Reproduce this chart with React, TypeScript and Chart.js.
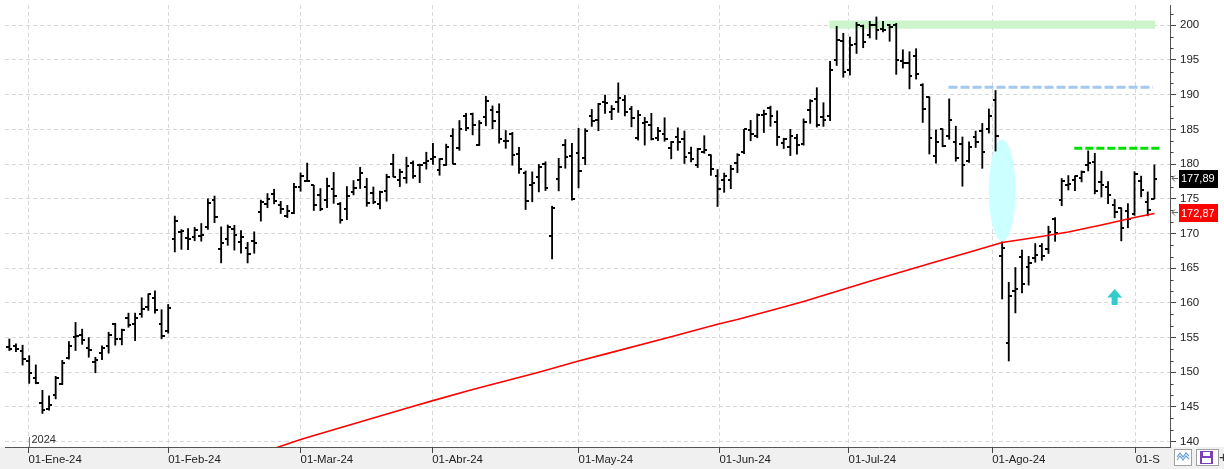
import React, { useEffect, useRef } from 'react';
import { Chart, registerables } from 'chart.js';

Chart.register(...registerables);

// ---- Data (daily OHLC, 27-Dec-2023 .. 05-Sep-2024) ----
const dates = [
  '2023-12-27','2023-12-28','2023-12-29','2024-01-02','2024-01-03','2024-01-04','2024-01-05','2024-01-08','2024-01-09','2024-01-10',
  '2024-01-11','2024-01-12','2024-01-16','2024-01-17','2024-01-18','2024-01-19','2024-01-22','2024-01-23','2024-01-24','2024-01-25',
  '2024-01-26','2024-01-29','2024-01-30','2024-01-31','2024-02-01','2024-02-02','2024-02-05','2024-02-06','2024-02-07','2024-02-08',
  '2024-02-09','2024-02-12','2024-02-13','2024-02-14','2024-02-15','2024-02-16','2024-02-20','2024-02-21','2024-02-22','2024-02-23',
  '2024-02-26','2024-02-27','2024-02-28','2024-02-29','2024-03-01','2024-03-04','2024-03-05','2024-03-06','2024-03-07','2024-03-08',
  '2024-03-11','2024-03-12','2024-03-13','2024-03-14','2024-03-15','2024-03-18','2024-03-19','2024-03-20','2024-03-21','2024-03-22',
  '2024-03-25','2024-03-26','2024-03-27','2024-03-28','2024-04-01','2024-04-02','2024-04-03','2024-04-04','2024-04-05','2024-04-08',
  '2024-04-09','2024-04-10','2024-04-11','2024-04-12','2024-04-15','2024-04-16','2024-04-17','2024-04-18','2024-04-19','2024-04-22',
  '2024-04-23','2024-04-24','2024-04-25','2024-04-26','2024-04-29','2024-04-30','2024-05-01','2024-05-02','2024-05-03','2024-05-06',
  '2024-05-07','2024-05-08','2024-05-09','2024-05-10','2024-05-13','2024-05-14','2024-05-15','2024-05-16','2024-05-17','2024-05-20',
  '2024-05-21','2024-05-22','2024-05-23','2024-05-24','2024-05-28','2024-05-29','2024-05-30','2024-05-31','2024-06-03','2024-06-04',
  '2024-06-05','2024-06-06','2024-06-07','2024-06-10','2024-06-11','2024-06-12','2024-06-13','2024-06-14','2024-06-17','2024-06-18',
  '2024-06-20','2024-06-21','2024-06-24','2024-06-25','2024-06-26','2024-06-27','2024-06-28','2024-07-01','2024-07-02','2024-07-03',
  '2024-07-05','2024-07-08','2024-07-09','2024-07-10','2024-07-11','2024-07-12','2024-07-15','2024-07-16','2024-07-17','2024-07-18',
  '2024-07-19','2024-07-22','2024-07-23','2024-07-24','2024-07-25','2024-07-26','2024-07-29','2024-07-30','2024-07-31','2024-08-01',
  '2024-08-02','2024-08-05','2024-08-06','2024-08-07','2024-08-08','2024-08-09','2024-08-12','2024-08-13','2024-08-14','2024-08-15',
  '2024-08-16','2024-08-19','2024-08-20','2024-08-21','2024-08-22','2024-08-23','2024-08-26','2024-08-27','2024-08-28','2024-08-29',
  '2024-08-30','2024-09-03','2024-09-04','2024-09-05'
];

const open = [
  153.56,153.72,153.10,151.54,149.20,145.59,144.69,146.74,148.33,152.06,
  155.04,155.39,153.53,151.49,152.77,153.83,156.89,154.85,157.80,156.95,
  158.42,159.34,160.70,157.00,155.87,169.19,170.20,169.39,169.48,169.65,
  170.90,174.80,167.73,169.21,170.58,168.74,167.83,168.94,173.10,174.28,
  175.70,174.08,172.44,173.01,176.75,177.53,176.93,175.54,174.83,176.44,
  174.31,173.50,175.90,177.69,176.64,175.80,174.22,176.14,179.99,177.75,
  178.01,180.15,179.88,180.17,180.79,179.07,179.90,184.00,182.38,186.90,
  187.24,182.77,186.74,187.72,187.43,183.27,184.31,181.47,178.74,176.94,
  178.08,179.94,169.68,177.80,182.75,181.09,181.64,180.85,186.99,186.28,
  188.92,187.44,188.88,189.16,188.00,183.82,185.97,185.60,183.76,184.34,
  182.30,183.88,183.66,181.65,179.93,181.70,181.31,178.30,177.70,177.64,
  180.10,181.75,184.90,184.07,187.06,188.02,186.09,183.08,182.52,183.74,
  182.91,187.80,189.33,186.81,186.92,195.01,197.73,193.49,197.28,199.94,
  198.65,200.04,199.40,200.00,200.09,194.80,194.56,195.59,191.35,189.59,
  181.14,185.00,184.10,183.20,182.91,180.39,183.84,184.72,185.05,189.29,
  166.75,154.21,161.71,166.55,165.17,166.40,168.14,167.81,172.11,174.86,
  177.04,177.64,177.92,179.92,180.35,177.34,176.70,174.15,173.69,173.22,
  172.78,177.55,174.48,175.00
];

const high = [
  154.78,154.08,153.89,152.38,151.05,147.38,146.59,149.40,151.71,154.42,
  157.17,156.20,154.99,152.15,153.78,155.76,157.05,156.21,158.51,158.51,
  160.72,161.29,161.73,159.01,159.76,172.50,170.55,170.71,170.88,171.43,
  175.00,175.39,170.95,171.21,171.17,170.42,168.71,170.23,174.80,175.75,
  176.37,174.62,174.05,177.22,178.73,180.14,176.93,176.46,177.99,178.79,
  174.47,176.76,177.62,179.53,177.93,176.69,176.09,178.53,181.42,179.26,
  180.99,180.45,180.00,181.70,183.00,180.79,182.87,185.10,186.27,187.29,
  187.34,186.27,189.77,188.38,188.69,184.83,184.57,182.39,179.00,178.87,
  179.93,180.32,173.92,180.82,183.53,182.99,185.15,185.10,187.87,188.75,
  189.94,188.43,191.70,189.89,188.31,187.72,186.72,187.31,185.30,186.67,
  183.26,185.22,184.76,182.44,182.24,184.08,181.34,179.21,178.70,179.82,
  181.50,185.00,186.29,187.23,187.77,188.35,187.67,183.72,185.00,184.29,
  186.51,189.28,191.00,188.84,194.80,199.84,198.85,198.30,200.43,200.03,
  200.55,201.20,200.57,200.11,200.27,196.47,196.19,196.62,191.58,189.68,
  184.93,185.06,189.39,185.45,183.90,183.19,184.75,185.86,187.94,190.60,
  168.77,162.96,165.08,167.58,166.69,168.55,168.55,171.04,172.28,177.91,
  178.34,178.30,179.01,181.90,181.55,178.97,177.47,174.89,173.69,174.29,
  178.90,178.26,175.98,179.88
];

const low = [
  153.12,152.95,151.03,148.39,148.33,144.05,144.53,146.15,148.21,151.88,
  153.12,154.01,152.15,149.91,151.82,152.74,153.90,153.93,156.48,154.55,
  157.91,158.90,158.49,154.81,155.62,167.33,167.70,167.65,168.94,168.88,
  170.58,171.54,165.75,168.28,167.59,167.17,165.74,167.14,171.77,173.70,
  174.26,172.86,172.27,172.85,176.07,177.49,173.30,173.26,173.72,174.33,
  171.47,171.98,175.55,176.47,173.90,174.28,173.52,174.64,178.15,176.75,
  177.24,177.95,177.31,179.26,179.95,178.38,179.80,180.00,181.97,184.81,
  184.20,182.67,185.51,185.08,183.00,182.26,179.82,178.65,173.44,174.56,
  175.98,176.18,166.32,176.13,179.39,174.80,176.56,179.91,185.42,184.80,
  187.31,186.39,187.44,186.93,185.36,183.45,182.73,183.46,183.35,183.28,
  180.75,181.97,180.08,180.30,179.49,181.55,178.36,173.87,175.92,176.44,
  178.75,181.49,183.36,183.79,184.54,185.43,182.67,182.23,181.22,181.43,
  182.72,185.86,185.33,185.42,186.26,194.20,192.50,192.82,195.93,196.76,
  198.17,197.96,199.05,197.69,192.92,193.83,190.83,192.24,185.99,181.45,
  180.11,182.48,183.56,180.41,176.80,180.24,182.38,179.38,184.46,181.87,
  160.55,151.61,158.54,161.43,162.55,165.85,166.11,167.10,168.86,173.99,
  176.26,176.16,177.43,179.00,175.70,175.24,174.30,172.25,168.92,170.81,
  172.60,175.26,172.54,175.00
];

const close = [
  153.34,153.38,151.94,149.93,148.47,144.57,145.24,149.10,151.37,153.73,
  155.18,154.62,153.16,151.71,153.50,155.34,154.78,156.02,156.87,157.75,
  159.12,161.26,159.00,155.20,159.28,171.81,170.31,169.15,170.53,169.84,
  174.45,172.34,168.64,170.98,169.80,169.51,167.08,168.59,174.58,174.99,
  174.73,173.54,173.16,176.76,178.22,177.58,174.12,173.51,176.82,175.35,
  171.96,175.39,176.56,178.75,174.42,174.48,175.90,178.15,178.15,178.87,
  179.71,178.30,179.83,180.38,180.97,180.69,182.41,180.00,185.07,185.19,
  185.67,185.95,189.05,186.13,183.62,183.32,181.28,179.22,174.63,177.23,
  179.54,176.59,173.67,179.62,180.96,175.00,179.00,184.72,186.21,188.70,
  188.76,188.00,189.50,187.48,186.57,187.07,185.99,183.63,184.70,183.54,
  183.15,183.13,181.05,180.75,182.15,182.02,179.32,176.44,178.34,179.34,
  181.28,185.00,184.30,187.06,187.23,186.89,183.83,183.66,184.06,182.81,
  186.10,189.08,185.57,186.34,193.61,197.85,193.25,197.20,200.00,197.59,
  200.00,199.29,199.34,199.79,195.05,194.49,192.72,193.02,187.93,183.75,
  183.13,182.55,186.41,180.83,179.85,182.50,183.20,181.71,186.98,184.07,
  167.90,161.02,161.93,162.77,165.80,166.94,166.80,170.23,170.10,177.59,
  177.06,178.22,178.88,180.11,176.13,177.04,175.50,173.12,170.80,172.12,
  178.50,176.25,173.33,177.89
];

// 200-session moving average, read at several bar indices
const smaIndex = [40, 44, 50, 60, 64, 70, 80, 86, 90, 100, 107, 110, 117, 120, 130, 135, 140, 145, 150, 155, 160, 165, 170, 173];
const smaValue = [139.0, 140.3, 142.0, 144.8, 145.9, 147.5, 150.0, 151.6, 152.6, 155.1, 156.9, 157.6, 159.4, 160.2, 163.1, 164.5, 165.9, 167.3, 168.7, 169.4, 170.2, 171.2, 172.3, 172.87];

// Axis ticks
const monthTickPos = [2.9, 24.0, 44.0, 63.9, 86.0, 107.3, 126.8, 148.5, 170.2];
const monthLabels = ['01-Ene-24', '01-Feb-24', '01-Mar-24', '01-Abr-24', '01-May-24', '01-Jun-24', '01-Jul-24', '01-Ago-24', '01-Sep-24'];
const yTickValues = [140, 145, 150, 155, 160, 165, 170, 175, 180, 185, 190, 195, 200];
const yearLabel = '2024';

// Drawn annotations (data space)
const greenBand = { x0: 123.9, x1: 173.1, y0: 199.5, y1: 200.68 };
const blueLevel = { x0: 141.9, x1: 172.8, y: 191.05 };
const greenLevel = { x0: 160.9, x1: 174.0, y: 182.26 };
const cyanEllipse = { x: 150.0, y: 176.2, dx: 2.03, dy: 7.34 };
const upArrow = { x: 167.0, top: 162.0, bottom: 159.7 };

const X_MIN = -0.656;
const X_MAX = 175.36;
const Y_MIN = 139.216;
const Y_MAX = 202.92;
const FONT = "'Liberation Sans', Arial, sans-serif";

function makeTick(side: 'left' | 'right') {
  const c = document.createElement('canvas');
  c.width = 6;
  c.height = 2;
  const g = c.getContext('2d')!;
  g.fillStyle = '#000';
  if (side === 'left') g.fillRect(0, 0, 3, 2);
  else g.fillRect(3, 0, 3, 2);
  return c;
}

const overlayPlugin = {
  id: 'overlay',
  beforeDraw(chart: any) {
    const { ctx, width, height, chartArea } = chart;
    ctx.save();
    ctx.fillStyle = '#ffffff';
    ctx.fillRect(0, 0, width, height);
    ctx.fillStyle = '#f0f0f0';
    ctx.fillRect(0, chartArea.bottom, width, height - chartArea.bottom);
    ctx.restore();
  },
  beforeDatasetsDraw(chart: any) {
    const { ctx, chartArea } = chart;
    const xs = chart.scales.x;
    const ys = chart.scales.y;
    ctx.save();
    ctx.beginPath();
    ctx.rect(chartArea.left, chartArea.top, chartArea.right - chartArea.left, chartArea.bottom - chartArea.top);
    ctx.clip();

    // green band
    const gx0 = xs.getPixelForValue(greenBand.x0);
    const gx1 = xs.getPixelForValue(greenBand.x1);
    const gy0 = ys.getPixelForValue(greenBand.y1);
    const gy1 = ys.getPixelForValue(greenBand.y0);
    ctx.fillStyle = '#ccf5cc';
    ctx.fillRect(gx0, gy0, gx1 - gx0, gy1 - gy0);

    // cyan ellipse
    const cx = xs.getPixelForValue(cyanEllipse.x);
    const cy = ys.getPixelForValue(cyanEllipse.y);
    const rx = Math.abs(xs.getPixelForValue(cyanEllipse.x + cyanEllipse.dx) - cx);
    const ry = Math.abs(ys.getPixelForValue(cyanEllipse.y + cyanEllipse.dy) - cy);
    ctx.fillStyle = '#ccffff';
    ctx.beginPath();
    ctx.ellipse(cx, cy, rx, ry, 0, 0, Math.PI * 2);
    ctx.fill();

    // blue dashed level
    ctx.lineWidth = 3;
    ctx.setLineDash([9, 3]);
    ctx.strokeStyle = '#a4c8f0';
    let py = ys.getPixelForValue(blueLevel.y);
    ctx.beginPath();
    ctx.moveTo(xs.getPixelForValue(blueLevel.x0), py);
    ctx.lineTo(xs.getPixelForValue(blueLevel.x1), py);
    ctx.stroke();

    // green dashed level
    ctx.setLineDash([8, 3]);
    ctx.strokeStyle = '#00e000';
    py = ys.getPixelForValue(greenLevel.y);
    ctx.beginPath();
    ctx.moveTo(xs.getPixelForValue(greenLevel.x0), py);
    ctx.lineTo(xs.getPixelForValue(greenLevel.x1), py);
    ctx.stroke();
    ctx.setLineDash([]);

    // up arrow
    const ax = xs.getPixelForValue(upArrow.x);
    const at = ys.getPixelForValue(upArrow.top);
    const ab = ys.getPixelForValue(upArrow.bottom);
    const head = 8.5;
    ctx.fillStyle = '#33cccc';
    ctx.beginPath();
    ctx.moveTo(ax, at);
    ctx.lineTo(ax + 7.5, at + head);
    ctx.lineTo(ax + 3, at + head);
    ctx.lineTo(ax + 3, ab);
    ctx.lineTo(ax - 3, ab);
    ctx.lineTo(ax - 3, at + head);
    ctx.lineTo(ax - 7.5, at + head);
    ctx.closePath();
    ctx.fill();

    // year marker
    const jx = Math.round(xs.getPixelForValue(monthTickPos[0])) + 0.5;
    ctx.strokeStyle = '#777';
    ctx.lineWidth = 1;
    ctx.beginPath();
    ctx.moveTo(jx, chartArea.bottom - 10);
    ctx.lineTo(jx, chartArea.bottom);
    ctx.stroke();
    ctx.fillStyle = '#333';
    ctx.font = `11px ${FONT}`;
    ctx.textAlign = 'left';
    ctx.textBaseline = 'alphabetic';
    ctx.fillText(yearLabel, jx + 2, chartArea.bottom - 4);
    ctx.restore();
  },
  afterDraw(chart: any) {
    const { ctx, chartArea, width, height } = chart;
    const ys = chart.scales.y;
    const right = chartArea.right;
    ctx.save();

    // minor ticks on the price axis
    ctx.strokeStyle = '#444';
    ctx.lineWidth = 1;
    for (let v = 140 - 5; v <= 205; v += 5 / 3) {
      const r = Math.round(v * 3) / 3;
      if (Math.abs(r / 5 - Math.round(r / 5)) < 1e-6) continue;
      if (r < Y_MIN || r > Y_MAX) continue;
      const p = Math.round(ys.getPixelForValue(r)) + 0.5;
      ctx.beginPath();
      ctx.moveTo(right, p);
      ctx.lineTo(right + 3.5, p);
      ctx.stroke();
    }

    // last value tags
    const drawTag = (val: number, bg: string) => {
      const p = ys.getPixelForValue(val);
      ctx.fillStyle = bg;
      ctx.fillRect(right + 9, Math.round(p - 9), 39, 18);
      ctx.fillStyle = '#ffffff';
      ctx.font = `11px ${FONT}`;
      ctx.textAlign = 'left';
      ctx.textBaseline = 'middle';
      ctx.fillText(val.toFixed(2).replace('.', ','), right + 11, p + 0.5);
      ctx.strokeStyle = '#666';
      ctx.lineWidth = 1;
      const ay = Math.round(p) - 0.5;
      ctx.beginPath();
      ctx.moveTo(right + 2, ay);
      ctx.lineTo(right + 8, ay);
      ctx.moveTo(right + 5, ay - 3);
      ctx.lineTo(right + 2, ay);
      ctx.lineTo(right + 5, ay + 3);
      ctx.stroke();
    };
    drawTag(close[close.length - 1], '#000000');
    drawTag(smaValue[smaValue.length - 1], '#ff0000');

    // bottom-right toolbar (covers the clipped part of the last month label)
    const by = chartArea.bottom + 1;
    ctx.fillStyle = '#f0f0f0';
    ctx.fillRect(right - 10, by, width - right + 10, height - by);
    ctx.fillStyle = '#ffffff';
    ctx.strokeStyle = '#a0a0a0';
    ctx.fillRect(right + 4.5, by + 1.5, 17, 16);
    ctx.strokeRect(right + 4.5, by + 1.5, 17, 16);
    ctx.strokeStyle = '#6aa0d8';
    ctx.lineWidth = 1.2;
    for (const off of [0, 3]) {
      ctx.beginPath();
      ctx.moveTo(right + 7, by + 9 + off);
      ctx.lineTo(right + 10, by + 5 + off);
      ctx.lineTo(right + 13, by + 9 + off);
      ctx.lineTo(right + 16, by + 5 + off);
      ctx.lineTo(right + 19, by + 8 + off);
      ctx.stroke();
    }
    ctx.fillStyle = '#ffffff';
    ctx.strokeStyle = '#a0a0a0';
    ctx.lineWidth = 1;
    ctx.fillRect(right + 26.5, by + 1.5, 22, 16);
    ctx.strokeRect(right + 26.5, by + 1.5, 22, 16);
    ctx.fillStyle = '#7b3fb8';
    ctx.fillRect(right + 30, by + 3, 13, 13);
    ctx.fillStyle = '#ffffff';
    ctx.fillRect(right + 33, by + 4, 7, 4);
    ctx.fillRect(right + 32, by + 10, 9, 5);
    ctx.fillStyle = '#333';
    ctx.font = `15px ${FONT}`;
    ctx.textAlign = 'left';
    ctx.textBaseline = 'middle';
    ctx.fillText('+', right + 49, by + 9.5);
    ctx.restore();
  }
};

export default function App() {
  const ref = useRef<HTMLCanvasElement | null>(null);

  useEffect(() => {
    document.body.style.margin = '0';
    const canvas = ref.current;
    if (!canvas) return;
    const openTick = makeTick('left');
    const closeTick = makeTick('right');

    const chart = new Chart(canvas, {
      type: 'bar',
      data: {
        datasets: [
          {
            type: 'line',
            label: 'Media 200',
            data: smaIndex.map((v, i) => ({ x: v, y: smaValue[i] })),
            borderColor: '#ff0000',
            borderWidth: 1.6,
            pointRadius: 0,
            tension: 0,
            order: 0
          } as any,
          {
            type: 'scatter',
            label: 'Apertura',
            data: open.map((v, i) => ({ x: i, y: v })),
            pointStyle: openTick,
            pointRadius: 3,
            order: 1
          } as any,
          {
            type: 'scatter',
            label: 'Cierre',
            data: close.map((v, i) => ({ x: i, y: v })),
            pointStyle: closeTick,
            pointRadius: 3,
            order: 1
          } as any,
          {
            type: 'bar',
            label: 'Rango',
            data: low.map((v, i) => ({ x: i, y: [v, high[i]] })),
            backgroundColor: '#000000',
            borderWidth: 0,
            barThickness: 1.2,
            grouped: false,
            order: 2
          } as any
        ]
      },
      options: {
        animation: false,
        responsive: false,
        events: [],
        layout: { padding: 0 },
        plugins: { legend: { display: false }, tooltip: { enabled: false } },
        scales: {
          x: {
            type: 'linear',
            position: 'bottom',
            min: X_MIN,
            max: X_MAX,
            offset: false,
            bounds: 'data',
            afterBuildTicks: (s: any) => {
              s.ticks = monthTickPos.map((v) => ({ value: v }));
            },
            afterFit: (s: any) => {
              s.height = 22;
              s.paddingLeft = 0;
              s.paddingRight = 0;
            },
            grid: { offset: false, color: '#d8d8d8', lineWidth: 1, drawTicks: true, tickLength: 6, tickColor: '#444', tickWidth: 1 },
            border: { display: true, color: '#555', width: 1, dash: [4, 3] },
            ticks: {
              autoSkip: false,
              maxRotation: 0,
              minRotation: 0,
              align: 'start',
              padding: 0,
              color: '#222',
              font: { family: FONT, size: 11.4 },
              callback: (_v: any, i: number) => monthLabels[i]
            }
          } as any,
          y: {
            type: 'linear',
            position: 'right',
            min: Y_MIN,
            max: Y_MAX,
            bounds: 'data',
            afterBuildTicks: (s: any) => {
              s.ticks = yTickValues.map((v) => ({ value: v }));
            },
            afterFit: (s: any) => {
              s.width = 54;
              s.paddingTop = 0;
              s.paddingBottom = 0;
            },
            grid: { offset: false, color: '#d8d8d8', lineWidth: 1, drawTicks: true, tickLength: 6, tickColor: '#444', tickWidth: 1 },
            border: { display: true, color: '#555', width: 1, dash: [4, 3] },
            ticks: {
              padding: 4,
              color: '#222',
              font: { family: FONT, size: 11.5 },
              callback: (v: any) => String(v)
            }
          } as any
        }
      },
      plugins: [overlayPlugin]
    } as any);

    return () => chart.destroy();
  }, []);

  return (
    <div style={{ width: 1224, height: 469 }}>
      <canvas ref={ref} width={1224} height={469} style={{ display: 'block', width: 1224, height: 469 }} />
    </div>
  );
}
